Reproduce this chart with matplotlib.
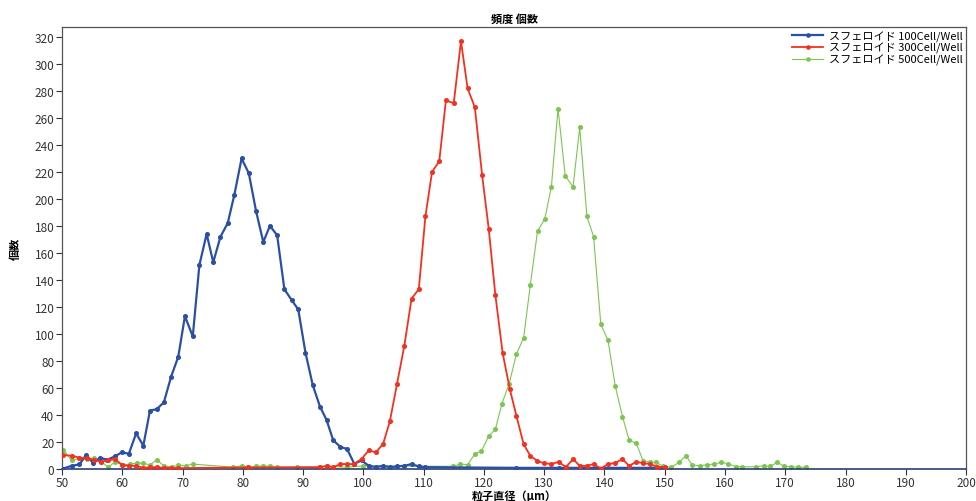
import matplotlib
matplotlib.use("Agg")
import matplotlib.pyplot as plt

plt.rcParams["font.family"] = ["Noto Sans CJK JP", "DejaVu Sans"]

# particle diameter (um) and counts
blue_x = [50.2, 51.6, 52.9, 54.0, 55.2, 56.3, 57.5, 58.8, 59.9, 61.1,
          62.3, 63.5, 64.6, 65.7, 66.9, 68.1, 69.3, 70.4, 71.7, 72.8,
          74.0, 75.1, 76.3, 77.5, 78.6, 79.8, 81.0, 82.2, 83.4, 84.5,
          85.7, 86.9, 88.1, 89.2, 90.4, 91.6, 92.8, 93.9, 95.0, 96.2,
          97.3, 98.5, 99.7, 100.9, 102.1, 103.3, 104.4, 105.6, 106.8, 108.0,
          109.2, 110.3, 125.3, 132.4, 150.0]
blue_y = [0, 2, 3, 10, 4, 8, 6.5, 9, 12, 11,
          26, 17, 43, 44, 49, 68, 83, 113, 98, 151,
          174, 153, 172, 182, 203, 230, 219, 191, 168, 180,
          173, 133, 125, 118, 86, 62, 46, 36, 21, 16,
          14.5, 3.5, 6, 2, 1, 2, 1, 1.5, 2, 3.3,
          1.5, 1, 0.5, 0.5, 0.5]

red_x = [50.2, 51.6, 52.9, 54.1, 55.3, 56.4, 57.6, 58.8, 60.0, 61.2,
         62.3, 63.5, 64.6, 65.7, 66.9, 68.1, 69.3, 80.8, 92.8, 93.9,
         95.0, 96.2, 97.3, 98.4, 99.7, 100.9, 102.1, 103.3, 104.4, 105.6,
         106.8, 108.0, 109.2, 110.3, 111.4, 112.6, 113.7, 115.0, 116.2, 117.3,
         118.5, 119.7, 120.8, 121.9, 123.1, 124.3, 125.4, 126.6, 127.7, 128.8,
         129.9, 131.2, 132.4, 133.6, 134.8, 135.9, 137.1, 138.2, 139.4, 140.6,
         141.7, 143.0, 144.1, 145.3, 146.4, 147.6, 148.7, 150.0]
red_y = [10, 9.5, 8, 7.5, 6.5, 5, 6, 7, 2.5, 2,
         2, 0.5, 1, 1, 0.5, 0.5, 0.3, 0.8, 1, 2,
         1, 3.3, 3.3, 3.3, 7, 13.5, 12, 18.5, 35, 63,
         91, 126, 133, 187, 220, 228, 273, 271, 317, 282,
         268, 218, 178, 129, 86, 59, 39, 18, 9.5, 5.8,
         4, 3.3, 5, 1, 7, 2, 2, 3.3, 0, 3.3,
         4, 7, 2, 5, 4, 3.3, 1.3, 1]

green_x = [50.2, 51.6, 52.9, 54.1, 55.3, 56.5, 57.7, 58.8, 60.1, 61.3,
           62.4, 63.5, 64.6, 65.7, 66.9, 68.2, 69.3, 70.5, 71.7, 78.3,
           79.8, 80.9, 82.2, 83.3, 84.5, 85.7, 89.0, 92.7, 93.9, 97.3,
           100.0, 114.9, 116.1, 117.3, 118.5, 119.6, 120.8, 121.9, 123.0, 124.2,
           125.4, 126.6, 127.7, 128.9, 130.1, 131.2, 132.3, 133.5, 134.8, 135.9,
           137.1, 138.2, 139.4, 140.6, 141.8, 143.0, 144.1, 145.3, 146.4, 147.5,
           148.6, 149.7, 151.1, 152.4, 153.5, 154.6, 155.8, 157.0, 158.2, 159.4,
           160.5, 161.8, 162.9, 165.2, 166.4, 167.5, 168.7, 169.8, 171.0, 172.2,
           173.4]
green_y = [14, 6, 7.6, 7, 7.6, 5, 1, 5, 2.6, 3.3,
           4, 4, 2.6, 6.5, 2, 1, 2.6, 2, 3.3, 1,
           2, 1, 1.5, 2, 1.5, 1, 1, 1, 1.5, 1,
           2, 1.6, 3.3, 2.8, 10.8, 13, 24, 29, 48, 63,
           85, 97, 136, 176, 185, 209, 267, 217, 209, 253,
           187, 172, 107, 95, 61, 38.5, 21, 18.7, 5.8, 4.6,
           4.6, 1.6, 1, 4.6, 9.5, 2.6, 2, 2.8, 3.3, 4.6,
           3.6, 1.3, 1.3, 1.3, 2, 1.6, 4.6, 1.6, 1.3, 1,
           1]

labels = ["スフェロイド 100Cell/Well",
          "スフェロイド 300Cell/Well",
          "スフェロイド 500Cell/Well"]

x_ticks = list(range(50, 201, 10))
y_ticks = list(range(0, 321, 20))

fig = plt.figure(figsize=(9.76, 5.02), dpi=100)
ax = fig.add_axes([0.0635, 0.0647, 0.9263, 0.8795])

ax.plot(blue_x, blue_y, color="#2b4fa6", lw=1.6, marker="o", ms=2.6,
        label=labels[0], zorder=3)
ax.plot(red_x, red_y, color="#f5301e", lw=1.3, marker="o", ms=2.6,
        label=labels[1], zorder=4)
ax.plot(green_x, green_y, color="#7cc650", lw=0.8, marker="o", ms=2.6,
        label=labels[2], zorder=2)

ax.set_xlim(50, 200)
ax.set_ylim(0, 327.5)
ax.set_xticks(x_ticks)
ax.set_yticks(y_ticks)
ax.tick_params(labelsize=8.5, length=4, width=0.8, colors="#333333", pad=1.5)

for side in ["left", "top", "right"]:
    ax.spines[side].set_color("#555555")
    ax.spines[side].set_linewidth(0.9)
ax.spines["bottom"].set_color("#2b3f6e")
ax.spines["bottom"].set_linewidth(1.2)

ax.set_title("頻度 個数", fontsize=8, fontweight="bold", pad=4)
ax.set_xlabel("粒子直径（μm）", fontsize=8, fontweight="bold", labelpad=0)
ax.set_ylabel("個数", fontsize=8, fontweight="bold", labelpad=9)

ax.legend(loc="upper right", fontsize=8, frameon=False, handlelength=2.8,
          handletextpad=0.5, labelspacing=0.05, borderaxespad=0.2,
          borderpad=0.1, markerscale=0.9)

fig.savefig("out.png", dpi=100)
